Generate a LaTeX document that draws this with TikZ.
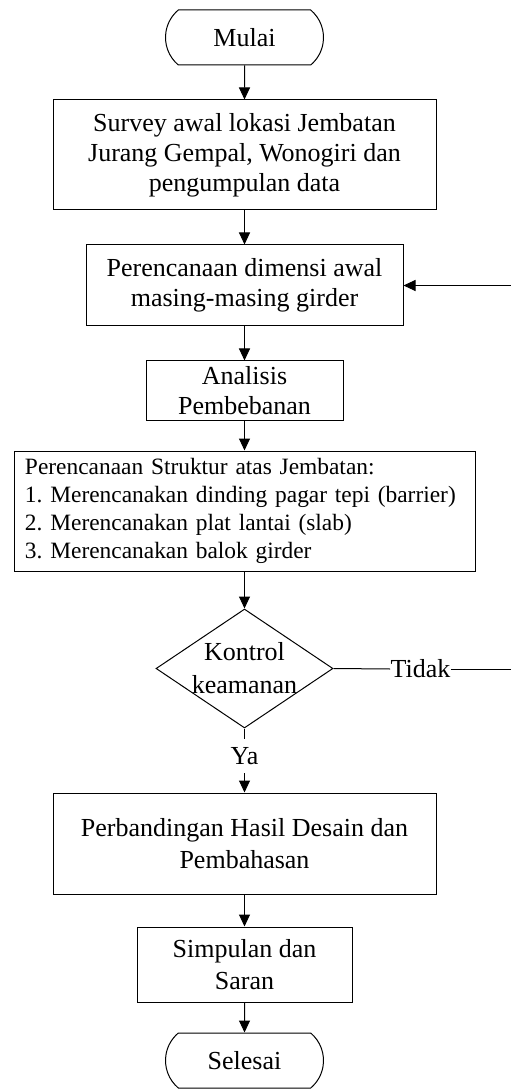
\documentclass[tikz,border=0pt]{standalone}
\usepackage{fontspec}
\setmainfont{Liberation Serif}
\usetikzlibrary{shapes.geometric,shapes.misc,arrows.meta}
\begin{document}
\begin{tikzpicture}[x=0.5pt,y=-0.5pt,
  every node/.style={font=\fontsize{13}{15}\selectfont\frenchspacing},
  box/.style={draw,line width=0.5pt,rectangle,inner sep=0pt,align=center},
  term/.style={draw,line width=0.5pt,rounded rectangle,rounded rectangle arc length=100,inner sep=0pt,minimum width=79pt,minimum height=27.5pt},
  dec/.style={draw,line width=0.5pt,diamond,inner sep=0pt,minimum width=88.5pt,minimum height=59.5pt,align=center},
  flow/.style={line width=0.5pt,-{Triangle[length=6pt,width=5.5pt]}},
  plain/.style={line width=0.5pt},
  lbl/.style={inner sep=0pt}]
\useasboundingbox (0,0) rectangle (510,1090);

\node[term] (mulai) at (244.5,37.5) {Mulai};
\node[box,minimum width=191.5pt,minimum height=55pt] (survey) at (244.5,155)
  {Survey awal lokasi Jembatan\\Jurang Gempal, Wonogiri dan\\pengumpulan data};
\node[box,minimum width=158.5pt,minimum height=40.5pt] (dimensi) at (244.5,285.5)
  {Perencanaan dimensi awal\\masing-masing girder};
\node[box,minimum width=98.5pt,minimum height=29.5pt] (analisis) at (244.5,390.5)
  {Analisis\\Pembebanan};
\node[box,align=left,text width=219.5pt,inner xsep=5.5pt,minimum height=60pt,
  font=\fontsize{11.7}{14}\selectfont\frenchspacing] (struktur) at (244.5,511)
  {Perencanaan Struktur atas Jembatan:\\
   \mbox{1. Merencanakan dinding pagar tepi (barrier)}\\
   2. Merencanakan plat lantai (slab)\\
   3. Merencanakan balok girder};
\node[dec,font=\fontsize{13}{16.5}\selectfont] (kontrol) at (244.5,668.5)
  {\makebox[0pt]{Kontrol}\\\makebox[0pt]{keamanan}};
\node[lbl] (tidak) at (420.5,669) {Tidak};
\node[lbl,minimum height=17pt] (ya) at (244.5,756) {Ya};
\node[box,minimum width=191.5pt,minimum height=50.5pt,font=\fontsize{13}{16}\selectfont] (banding) at (244.5,843.5)
  {Perbandingan Hasil Desain dan\\Pembahasan};
\node[box,minimum width=107.5pt,minimum height=37.5pt,font=\fontsize{13}{16}\selectfont] (simpulan) at (244.5,964.5)
  {Simpulan dan\\Saran};
\node[term] (selesai) at (244.5,1060.5) {Selesai};

\coordinate (r1) at (511,669);
\coordinate (r2) at (511,285.5);

\draw[flow] (mulai) -- (survey);
\draw[flow] (survey) -- (dimensi);
\draw[flow] (dimensi) -- (analisis);
\draw[flow] (analisis) -- (struktur);
\draw[flow] (struktur) -- (kontrol);
\draw[plain] (kontrol.south) -- (ya.north);
\draw[flow] (ya.south) -- (banding.north);
\draw[flow] (banding) -- (simpulan);
\draw[flow] (simpulan) -- (selesai);
\draw[plain] (kontrol.east) -- (tidak.west);
\draw[flow] (tidak.east) -- (r1) -- (r2) -- (dimensi.east);
\end{tikzpicture}
\end{document}
